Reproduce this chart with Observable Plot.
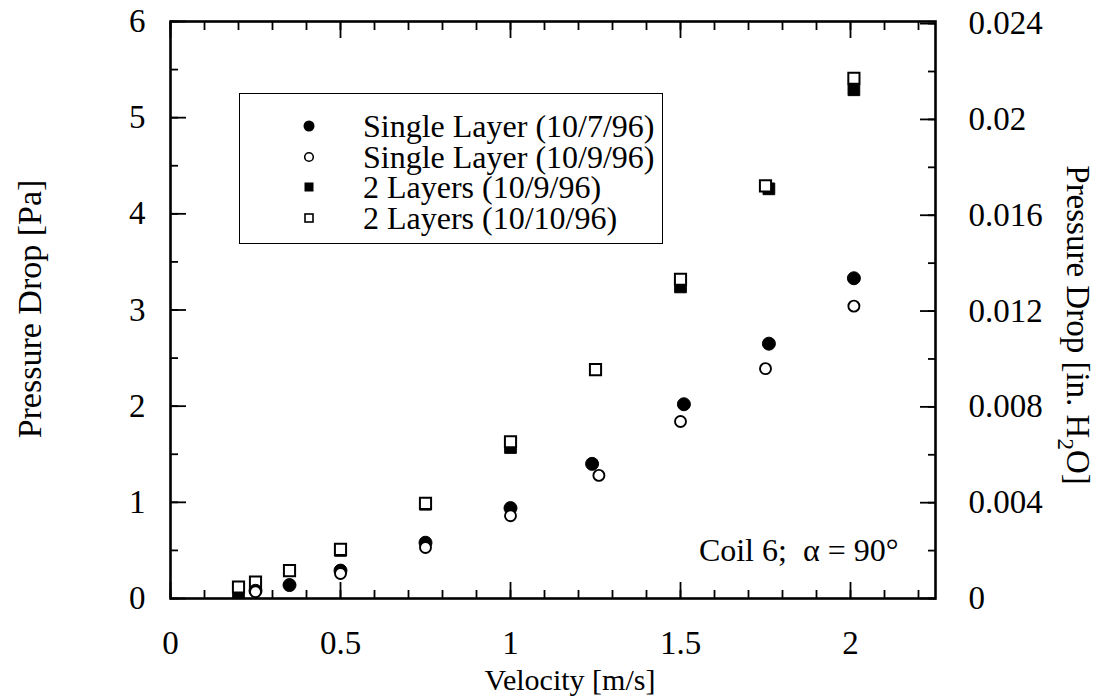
<!DOCTYPE html>
<html>
<head>
<meta charset="utf-8">
<script src="https://cdn.jsdelivr.net/npm/d3@7"></script>
<script src="https://cdn.jsdelivr.net/npm/@observablehq/plot@0.6"></script>
<style>
  html, body { margin: 0; padding: 0; background: #fff; }
  #wrap { position: relative; width: 1097px; height: 696px; font-family: "Liberation Serif", "Times New Roman", serif; color: #000; }
  #legend { position: absolute; left: 239px; top: 93px; width: 422px; height: 149px; border: 1.5px solid #000; background: #fff; }
  .row { position: absolute; left: 0; height: 28px; font-size: 32px; line-height: 28px; white-space: nowrap; }
  .row svg { position: absolute; left: 57px; top: 2px; }
  .row span { position: absolute; left: 123px; top: 0; }
</style>
</head>
<body>
<div id="wrap"></div>
<script>
// ---- Data ----
const seriesNames = ["Single Layer (10/7/96)", "Single Layer (10/9/96)", "2 Layers (10/9/96)", "2 Layers (10/10/96)"];

const single1007V = [0.25, 0.35, 0.50, 0.75, 1.00, 1.24, 1.51, 1.76, 2.01];
const single1007P = [0.08, 0.14, 0.29, 0.58, 0.94, 1.40, 2.02, 2.65, 3.33];

const single1009V = [0.25, 0.50, 0.75, 1.00, 1.26, 1.50, 1.75, 2.01];
const single1009P = [0.07, 0.26, 0.53, 0.86, 1.28, 1.84, 2.39, 3.04];

const double1009V = [0.20, 0.25, 0.50, 0.75, 1.00, 1.25, 1.50, 1.76, 2.01];
const double1009P = [0.06, 0.12, 0.50, 0.98, 1.57, 2.38, 3.24, 4.26, 5.29];

const double1010V = [0.20, 0.25, 0.35, 0.50, 0.75, 1.00, 1.25, 1.50, 1.75, 2.01];
const double1010P = [0.12, 0.17, 0.29, 0.51, 0.99, 1.63, 2.38, 3.32, 4.29, 5.41];

// ---- Tick values / labels ----
const xMajorTicks = [0, 0.5, 1, 1.5, 2];
const xTickLabels = ["0", "0.5", "1", "1.5", "2"];
const xMinorTicks = d3.range(0, 23).map(i => i / 10);
const yMajorTicks = [0, 1, 2, 3, 4, 5, 6];
const yTickLabels = ["0", "1", "2", "3", "4", "5", "6"];
const yMinorTicks = d3.range(0, 13).map(i => i / 2);
const rightInH2OMajor = [0, 0.004, 0.008, 0.012, 0.016, 0.020, 0.024];
const rightTickLabels = ["0", "0.004", "0.008", "0.012", "0.016", "0.02", "0.024"];
const rightInH2OMinor = d3.range(0, 13).map(i => i * 0.002);
const PA_PER_INH2O = 249.089;

const toRows = (V, P) => V.map((v, i) => ({v, p: P[i]}));
const s1 = toRows(single1007V, single1007P);
const s2 = toRows(single1009V, single1009P);
const d1 = toRows(double1009V, double1009P);
const d2 = toRows(double1010V, double1010P);

const rightMajorPa = rightInH2OMajor.map(h => h * PA_PER_INH2O);
const rightMinorPa = rightInH2OMinor.map(h => h * PA_PER_INH2O);
const rightLabelMap = new Map(rightMajorPa.map((p, i) => [p, rightTickLabels[i]]));
const xLabelMap = new Map(xMajorTicks.map((t, i) => [t, xTickLabels[i]]));
const yLabelMap = new Map(yMajorTicks.map((t, i) => [t, yTickLabels[i]]));

const tickStyle = {strokeWidth: 1.8, tickFormat: () => "", label: null};
const FONT = "Liberation Serif, Times New Roman, serif";
const TICK_FS = 33;

const chart = Plot.plot({
  width: 1097,
  height: 696,
  marginLeft: 170,
  marginRight: 162,
  marginTop: 21,
  marginBottom: 98,
  x: {domain: [0, 2.25]},
  y: {domain: [0, 6]},
  style: {fontFamily: FONT, fontSize: "30px", color: "#000", background: "#fff", overflow: "visible"},
  marks: [
    // inward ticks
    Plot.axisX(xMinorTicks, {anchor: "bottom", tickSize: -8, ...tickStyle}),
    Plot.axisX(xMajorTicks, {anchor: "bottom", tickSize: -16, ...tickStyle}),
    Plot.axisX(xMinorTicks, {anchor: "top", tickSize: -8, ...tickStyle}),
    Plot.axisX(xMajorTicks, {anchor: "top", tickSize: -16, ...tickStyle}),
    Plot.axisY(yMinorTicks, {anchor: "left", tickSize: -8, ...tickStyle}),
    Plot.axisY(yMajorTicks, {anchor: "left", tickSize: -16, ...tickStyle}),
    Plot.axisY(rightMinorPa, {anchor: "right", tickSize: -8, ...tickStyle}),
    Plot.axisY(rightMajorPa, {anchor: "right", tickSize: -16, ...tickStyle}),
    // tick labels
    Plot.axisX(xMajorTicks, {anchor: "bottom", tickSize: 0, tickPadding: 32, tickFormat: d => xLabelMap.get(d), label: null, fontSize: TICK_FS}),
    Plot.axisY(yMajorTicks, {anchor: "left", tickSize: 0, tickPadding: 25, tickFormat: d => yLabelMap.get(d), label: null, fontSize: TICK_FS}),
    Plot.axisY(rightMajorPa, {anchor: "right", tickSize: 0, tickPadding: 33, tickFormat: d => rightLabelMap.get(d), label: null, fontSize: TICK_FS}),
    Plot.frame({stroke: "#000", strokeWidth: 2.6}),
    // data
    Plot.dot(d1, {x: "v", y: "p", symbol: "square", r: 6.6, fill: "#000", stroke: "#000", strokeWidth: 1}),
    Plot.dot(d2, {x: "v", y: "p", symbol: "square", r: 6.3, fill: "#fff", stroke: "#000", strokeWidth: 2}),
    Plot.dot(s1, {x: "v", y: "p", symbol: "circle", r: 6.5, fill: "#000", stroke: "#000", strokeWidth: 1}),
    Plot.dot(s2, {x: "v", y: "p", symbol: "circle", r: 5.5, fill: "#fff", stroke: "#000", strokeWidth: 1.9}),
    // annotation
    Plot.text(["Coil 6;  α = 90°"], {frameAnchor: "bottom-right", textAnchor: "end", lineAnchor: "bottom", dx: -37, dy: -38, fontSize: 32, fill: "#000"})
  ]
});

const wrap = document.getElementById("wrap");
wrap.appendChild(chart);

// axis titles
const svg = d3.select(chart);
svg.append("text")
  .attr("transform", "translate(29,309) rotate(-90)")
  .attr("text-anchor", "middle").attr("dominant-baseline", "central")
  .style("font-family", FONT).style("font-size", "34px").attr("fill", "#000")
  .text("Pressure Drop [Pa]");
const rt = svg.append("text")
  .attr("transform", "translate(1078,325) rotate(90)")
  .attr("text-anchor", "middle").attr("dominant-baseline", "central")
  .style("font-family", FONT).style("font-size", "33px").attr("fill", "#000");
rt.append("tspan").text("Pressure Drop [in. H");
rt.append("tspan").attr("baseline-shift", "sub").style("font-size", "23px").text("2");
rt.append("tspan").text("O]");
svg.append("text")
  .attr("x", 570).attr("y", 690)
  .attr("text-anchor", "middle")
  .style("font-family", FONT).style("font-size", "30px").attr("fill", "#000")
  .text("Velocity [m/s]");

// legend (HTML overlay)
const legend = document.createElement("div");
legend.id = "legend";
const rowTops = [18, 49, 79, 110];
const sym = [
  '<svg width="24" height="24"><circle cx="12" cy="12" r="5.5" fill="#000"/></svg>',
  '<svg width="24" height="24"><circle cx="12" cy="12" r="4.3" fill="#fff" stroke="#000" stroke-width="1.6"/></svg>',
  '<svg width="24" height="24"><rect x="7.5" y="7.5" width="9" height="9" fill="#000"/></svg>',
  '<svg width="24" height="24"><rect x="8" y="8" width="8" height="8" fill="#fff" stroke="#000" stroke-width="1.6"/></svg>'
];
seriesNames.forEach((name, i) => {
  const row = document.createElement("div");
  row.className = "row";
  row.style.top = rowTops[i] + "px";
  row.innerHTML = sym[i] + "<span>" + name + "</span>";
  legend.appendChild(row);
});
wrap.appendChild(legend);
</script>
</body>
</html>
